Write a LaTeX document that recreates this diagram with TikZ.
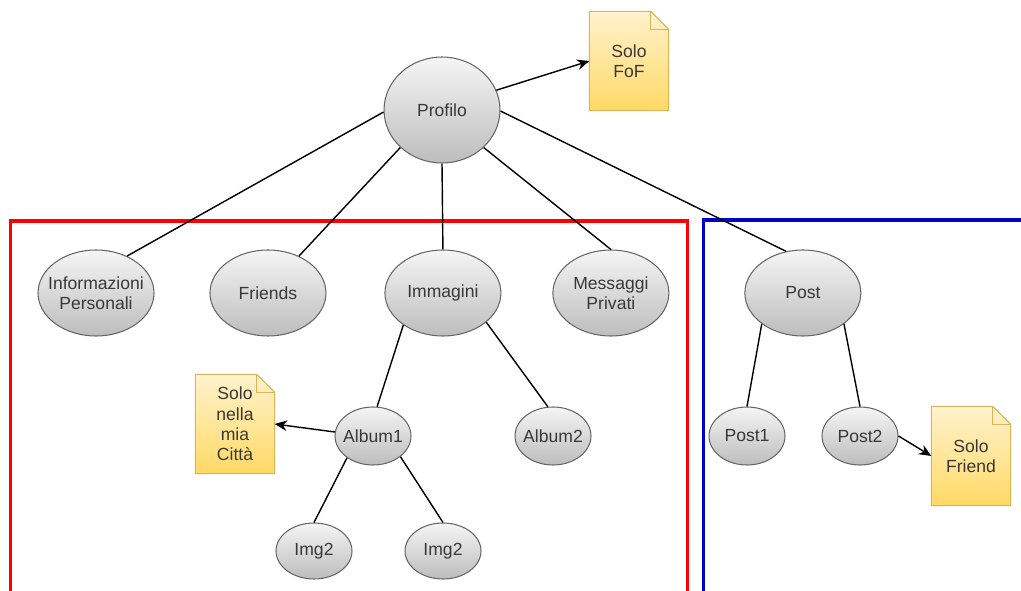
\documentclass[tikz,border=0pt]{standalone}
\usepackage{fontspec}
\setmainfont{Liberation Sans}
\usetikzlibrary{shapes.geometric}
\usetikzlibrary{arrows.meta}

\definecolor{elltop}{HTML}{F5F5F5}
\definecolor{ellbot}{HTML}{BDBDBD}
\definecolor{ellline}{HTML}{666666}
\definecolor{notetop}{HTML}{FFF2CC}
\definecolor{notebot}{HTML}{FFD966}
\definecolor{noteline}{HTML}{D6B656}
\definecolor{frameblue}{HTML}{0000CC}

% folded corner of a note
\newcommand{\dogear}[1]{%
	\fill[white] ([xshift=-0.36cm]#1.north east) -- (#1.north east) -- ([yshift=-0.36cm]#1.north east) -- cycle;
	\draw[notebd] (#1.south west) |- ([xshift=-0.36cm]#1.north east) -- ([yshift=-0.36cm]#1.north east) -- (#1.south east) -- cycle;
	\draw[notebd] ([xshift=-0.36cm]#1.north east) |- ([yshift=-0.36cm]#1.north east);
}

\begin{document}
\begin{tikzpicture}
	[x=0.02cm, y=-0.02cm, thick, node distance={3.44cm},
	main/.style = {draw=ellline, line width=0.6pt, ellipse, top color=elltop, bottom color=ellbot, inner xsep=-0.3cm, inner ysep=0pt, minimum width=2.32cm, minimum height=1.72cm, align=center, text=black!78, font=\fontsize{10}{11.5}\selectfont},
	small/.style = {main, minimum width=1.52cm, minimum height=1.16cm},
	note/.style = {rectangle, top color=notetop, bottom color=notebot, minimum width=1.56cm, minimum height=1.96cm, inner sep=0pt, align=center, text=black!78, font=\fontsize{10}{11.5}\selectfont},
	notebd/.style = {draw=noteline, line width=0.6pt},
	link/.style = {-{Stealth[length=7pt,width=6pt]}},
	redbox/.style = {draw=red, line width=2pt},
	bluebox/.style = {draw=frameblue, line width=2pt}]
	\useasboundingbox (0,0) rectangle (1021,591);
	\draw[redbox] (10.5,591) |- (687.5,221) -- (687.5,591);
	\draw[bluebox] (703.5,591) |- (1021,220);
	\node[main, minimum height=2.12cm] (prof) at (442,110) {Profilo};
	\node[note] (fof) at (629,61) {Solo\\FoF};
	\node[main] (info) at (96,293) {Informazioni\\Personali};
	\node[main] (friends) [right of = info] {Friends};
	\node[main] (imm) [right of = friends, node distance={3.5cm}] {Immagini};
	\node[main] (msg) [right of = imm, node distance={3.36cm}] {Messaggi\\Privati};
	\node[main] (post) [right of = msg, node distance={3.84cm}] {Post};
	\node[small] (alb1) at (373,436) {Album1};
	\node[small] (alb2) at (553,436) {Album2};
	\node[note] (city) at (235,424) {Solo\\nella\\mia\\Città};
	\node[small, minimum height=1.12cm] (img1) at (314,551) {Img2};
	\node[small, minimum height=1.12cm] (img2) at (443,551) {Img2};
	\node[small] (post1) at (747,436) {Post1};
	\node[small] (post2) at (860,436) {Post2};
	\node[note] (friendonly) at (971,456) {Solo\\Friend};
	\dogear{fof}
	\dogear{city}
	\dogear{friendonly}
	\draw (prof.182) -- (info.50);
	\draw (prof.222) -- (friends.50);
	\draw (prof.south) -- (imm.north);
	\draw (prof.318) -- (msg.north);
	\draw (prof.359) -- (post.112);
	\draw[link] (prof.20) -- (fof.west);
	\draw (imm.219) -- (alb1.82);
	\draw (imm.326) -- (alb2.100);
	\draw[link] (alb1.174) -- (city.east);
	\draw (alb1.220) -- (img1.north);
	\draw (alb1.323) -- (img2.north);
	\draw (post.217) -- (post1.north);
	\draw (post.323) -- (post2.north);
	\draw[link] (post2.east) -- (friendonly.west);
\end{tikzpicture}
\end{document}
